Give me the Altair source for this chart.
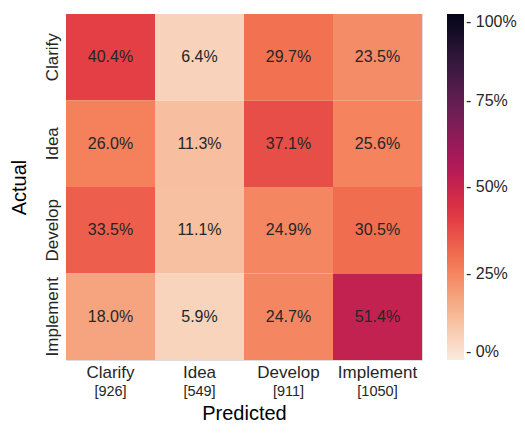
import altair as alt
import pandas as pd

labels = ["Clarify", "Idea", "Develop", "Implement"]
counts = [926, 549, 911, 1050]
matrix = [
    [40.4, 6.4, 29.7, 23.5],
    [26.0, 11.3, 37.1, 25.6],
    [33.5, 11.1, 24.9, 30.5],
    [18.0, 5.9, 24.7, 51.4],
]

rows = []
for i, a in enumerate(labels):
    for j, p in enumerate(labels):
        rows.append({"Actual": a, "Predicted": p, "value": matrix[i][j] / 100.0})
df = pd.DataFrame(rows)
cnt = pd.DataFrame({"Predicted": labels, "count": [f"[{c}]" for c in counts]})

# rocket_r colormap stops
stops = [0, 1/7, 2/7, 3/7, 4/7, 5/7, 6/7, 1]
cols = ["#faebdd", "#f6b48f", "#f37651", "#e13342", "#ad1759", "#701f57", "#35193e", "#03051a"]

W = 356
H = 346
FONT = "Liberation Sans"
TXT = "#262626"

xenc = alt.X("Predicted:N", sort=labels, title="Predicted",
             axis=alt.Axis(labelAngle=0, labelFontSize=17, titleFontSize=20,
                           labelPadding=4, titlePadding=23, ticks=False, domain=False,
                           labelColor=TXT, titleColor="#000000", labelFont=FONT, titleFont=FONT,
                           titleFontWeight="normal"))
yenc = alt.Y("Actual:N", sort=labels, title="Actual",
             axis=alt.Axis(labelAngle=-90, labelAlign="center", labelBaseline="bottom",
                           labelFontSize=17, titleFontSize=20, labelPadding=5, titlePadding=14,
                           ticks=False, domain=False, labelColor=TXT, titleColor="#000000",
                           labelFont=FONT, titleFont=FONT, titleFontWeight="normal"))

heat = alt.Chart(df).mark_rect().encode(
    x=xenc,
    y=yenc,
    color=alt.Color("value:Q",
                    scale=alt.Scale(domain=stops, range=cols, interpolate="rgb"),
                    legend=alt.Legend(title=None, values=[0, 0.25, 0.5, 0.75, 1],
                                      gradientLength=H, gradientThickness=17,
                                      labelExpr="'- ' + format(datum.value, '.0%')",
                                      labelFontSize=16, labelColor=TXT, labelFont=FONT,
                                      offset=25, labelOffset=2, gradientStrokeWidth=0,
                                      labelOverlap=False, labelBaseline="middle")),
)

text = alt.Chart(df).mark_text(fontSize=16, color=TXT, font=FONT).encode(
    x=alt.X("Predicted:N", sort=labels),
    y=alt.Y("Actual:N", sort=labels),
    text=alt.Text("value:Q", format=".1%"),
)

counts_layer = alt.Chart(cnt).mark_text(fontSize=14.5, color=TXT, font=FONT, baseline="middle").encode(
    x=alt.X("Predicted:N", sort=labels),
    y=alt.value(H + 32),
    text="count:N",
)

chart = alt.layer(heat, text, counts_layer).properties(
    width=W, height=H,
    autosize=alt.AutoSizeParams(type="none"),
    padding={"left": 58, "top": 6, "right": 95, "bottom": 64},
).configure_view(stroke=None).configure(background="white")

chart.save("out.html", embed_options={"renderer": "svg", "actions": False})
